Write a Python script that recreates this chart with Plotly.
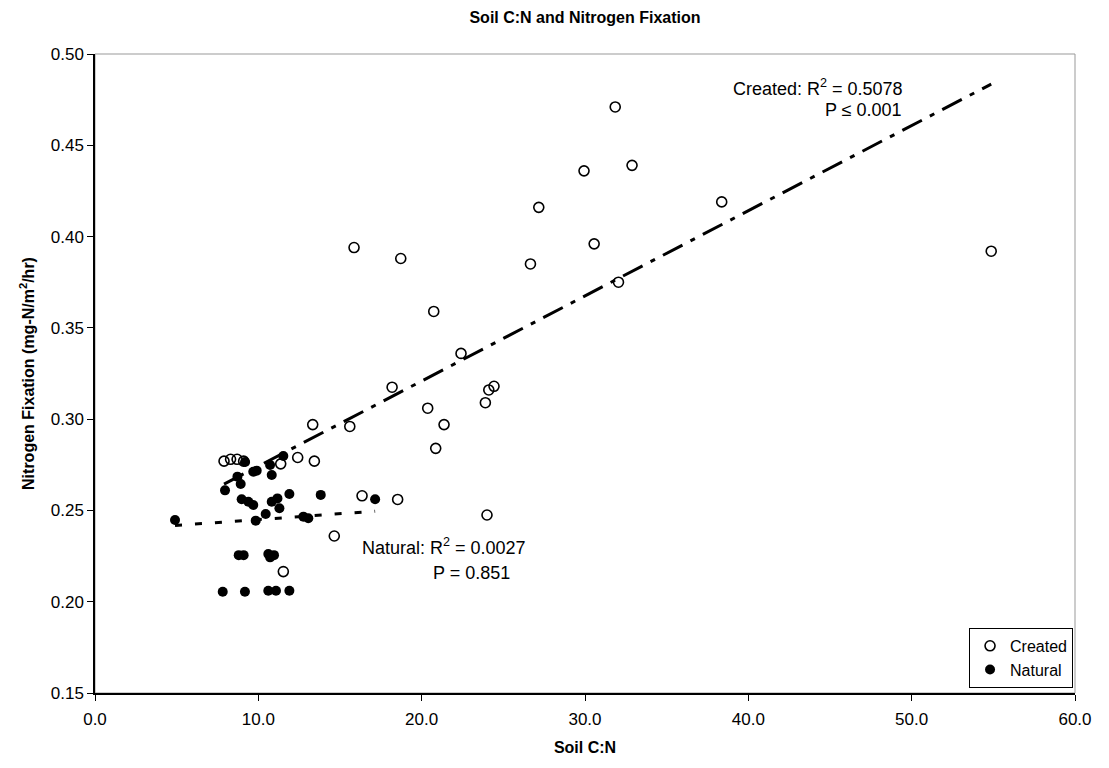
import plotly.graph_objects as go

# ---- data ----
created_x = [31.85, 29.94, 32.88, 27.17, 30.56, 26.66, 32.05, 38.37, 54.87,
             15.86, 18.72, 20.74, 22.41, 18.19, 24.43, 24.11, 23.90, 20.37,
             21.37, 13.33, 15.60, 20.86,
             7.90, 8.30, 8.70, 9.10, 11.37, 12.41, 13.43, 16.35, 18.53,
             14.65, 11.53, 24.00]
created_y = [0.471, 0.436, 0.439, 0.416, 0.396, 0.385, 0.375, 0.419, 0.392,
             0.394, 0.388, 0.359, 0.336, 0.3175, 0.318, 0.316, 0.309, 0.306,
             0.297, 0.297, 0.296, 0.284,
             0.277, 0.278, 0.278, 0.277, 0.2755, 0.279, 0.277, 0.258, 0.256,
             0.236, 0.2165, 0.2475]

natural_x = [7.96, 8.72, 8.92, 9.19, 9.69, 9.90, 10.72, 10.82, 11.53,
             8.98, 9.39, 9.69, 10.82, 11.17, 11.29, 11.90, 13.82, 17.15,
             10.45, 9.84, 12.76, 13.06, 4.90,
             8.80, 9.10, 10.61, 10.96, 10.72,
             7.82, 9.18, 10.61, 11.08, 11.90]
natural_y = [0.261, 0.2685, 0.2645, 0.2765, 0.2712, 0.2718, 0.2749, 0.2694, 0.2798,
             0.2561, 0.2548, 0.253, 0.2548, 0.2566, 0.2512, 0.259, 0.2585, 0.2561,
             0.248, 0.2444, 0.2466, 0.2457, 0.2448,
             0.2255, 0.2255, 0.2261, 0.2255, 0.2243,
             0.2055, 0.2055, 0.206, 0.206, 0.206]

# trendline fits (slope, intercept)
created_fit = (0.004664, 0.2276)
natural_fit = (0.00064, 0.2386)

x_ticks = [0, 10, 20, 30, 40, 50, 60]
y_ticks = [0.15, 0.20, 0.25, 0.30, 0.35, 0.40, 0.45, 0.50]

FONT = "Liberation Sans, Arial, sans-serif"

fig = go.Figure()

cx_line = [min(created_x), max(created_x)]
fig.add_trace(go.Scatter(
    x=cx_line, y=[created_fit[0] * v + created_fit[1] for v in cx_line],
    mode="lines", line=dict(color="black", width=3, dash="22px,9px,5px,9px"),
    showlegend=False, hoverinfo="skip"))

nx_line = [min(natural_x), max(natural_x)]
fig.add_trace(go.Scatter(
    x=nx_line, y=[natural_fit[0] * v + natural_fit[1] for v in nx_line],
    mode="lines", line=dict(color="black", width=3, dash="7px,13px"),
    showlegend=False, hoverinfo="skip"))

fig.add_trace(go.Scatter(
    x=created_x, y=created_y, mode="markers", name="Created",
    marker=dict(symbol="circle-open", size=10, color="black",
                line=dict(color="black", width=1.6))))

fig.add_trace(go.Scatter(
    x=natural_x, y=natural_y, mode="markers", name="Natural",
    marker=dict(symbol="circle", size=10, color="black")))

ann_font = dict(family=FONT, size=18, color="black")
fig.add_annotation(x=49.6, y=0.4814, xref="x", yref="y", xanchor="right",
                   yanchor="middle", showarrow=False,
                   text="Created: R<sup>2</sup> = 0.5078", font=ann_font)
fig.add_annotation(x=49.5, y=0.4693, xref="x", yref="y", xanchor="right",
                   yanchor="middle", showarrow=False,
                   text="P ≤ 0.001", font=ann_font)
fig.add_annotation(x=16.2, y=0.2300, xref="x", yref="y", xanchor="left",
                   yanchor="middle", showarrow=False,
                   text="Natural: R<sup>2</sup> = 0.0027", font=ann_font)
fig.add_annotation(x=20.6, y=0.2157, xref="x", yref="y", xanchor="left",
                   yanchor="middle", showarrow=False,
                   text="P = 0.851", font=ann_font)

# light frame on top/right
fig.add_shape(type="rect", xref="paper", yref="paper", x0=0, y0=0, x1=1, y1=1,
              line=dict(color="#999999", width=1), layer="below")

fig.update_layout(
    width=1109, height=768,
    margin=dict(l=95, r=34, t=54, b=75),
    paper_bgcolor="white", plot_bgcolor="white",
    font=dict(family=FONT, size=17, color="black"),
    title=dict(text="<b>Soil C:N and Nitrogen Fixation</b>",
               x=(95 + 1075) / 2 / 1109, xanchor="center",
               y=1 - 17 / 768, yanchor="middle",
               font=dict(family=FONT, size=16, color="black")),
    legend=dict(x=0.998, y=0.008, xanchor="right", yanchor="bottom",
                bordercolor="black", borderwidth=1, bgcolor="white",
                font=dict(family=FONT, size=16, color="black"),
                itemwidth=30, tracegroupgap=2),
    showlegend=True,
)

fig.update_xaxes(
    range=[0, 60], tickvals=x_ticks, ticktext=[f"{v:.1f}" for v in x_ticks],
    showgrid=False, zeroline=False, showline=True, linecolor="black",
    linewidth=1.5, ticks="outside", ticklen=6, tickcolor="black",
    tickfont=dict(family=FONT, size=17), ticklabelstandoff=4,
    title=dict(text="<b>Soil C:N</b>", font=dict(family=FONT, size=16),
               standoff=14))
fig.update_yaxes(
    range=[0.15, 0.50], tickvals=y_ticks, ticktext=[f"{v:.2f}" for v in y_ticks],
    showgrid=False, zeroline=False, showline=True, linecolor="black",
    linewidth=1.5, ticks="outside", ticklen=6, tickcolor="black",
    tickfont=dict(family=FONT, size=17),
    title=dict(text="<b>Nitrogen Fixation (mg-N/m<sup>2</sup>/hr)</b>",
               font=dict(family=FONT, size=16), standoff=12))

fig.write_html("out.html")
